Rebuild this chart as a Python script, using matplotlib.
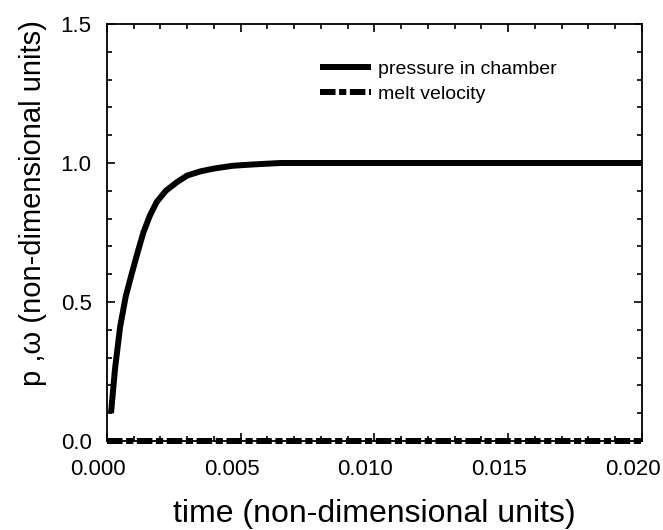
import matplotlib
matplotlib.use("Agg")
import matplotlib.pyplot as plt
import matplotlib.transforms as mtransforms
from matplotlib.ticker import MultipleLocator, FormatStrFormatter

plt.rcParams['font.family'] = ['Liberation Sans', 'DejaVu Sans']

# pressure in chamber
time_p = [0.00015, 0.00030, 0.00049, 0.00070, 0.00092, 0.00115, 0.00136, 0.00160,
          0.00186, 0.00220, 0.00260, 0.00300, 0.00350, 0.00400, 0.00470, 0.00550,
          0.00650, 0.00800, 0.01000, 0.01200, 0.01400, 0.01600, 0.01800, 0.02000]
pressure = [0.10, 0.26, 0.41, 0.52, 0.60, 0.68, 0.75, 0.81,
            0.86, 0.90, 0.93, 0.955, 0.97, 0.98, 0.99, 0.995,
            1.0, 1.0, 1.0, 1.0, 1.0, 1.0, 1.0, 1.0]
# melt velocity
time_w = [0.0, 0.005, 0.010, 0.015, 0.020]
velocity = [0.0, 0.0, 0.0, 0.0, 0.0]

fig = plt.figure(figsize=(6.63, 5.30), dpi=100)
ax = fig.add_axes([0.1614, 0.168, 0.8066, 0.7867])

ax.plot(time_p, pressure, color='black', lw=4.3, solid_capstyle='butt', label='pressure in chamber')
ax.plot(time_w, velocity, color='black', lw=4.3, linestyle=(0, (2.6, 0.6, 1.2, 0.6)),
        label='melt velocity', clip_on=False)

ax.set_xlim(0, 0.020)
ax.set_ylim(0, 1.5)
ax.xaxis.set_major_locator(MultipleLocator(0.005))
ax.xaxis.set_minor_locator(MultipleLocator(0.001))
ax.yaxis.set_major_locator(MultipleLocator(0.5))
ax.yaxis.set_minor_locator(MultipleLocator(0.1))
ax.xaxis.set_major_formatter(FormatStrFormatter('%.3f'))
ax.yaxis.set_major_formatter(FormatStrFormatter('%.1f'))

ax.tick_params(which='both', direction='in', top=True, right=True, width=1.2)
ax.tick_params(which='major', length=6, labelsize=16)
ax.tick_params(axis='x', which='major', pad=13)
ax.tick_params(axis='y', which='major', pad=11)
ax.tick_params(which='minor', length=3.5)
for s in ax.spines.values():
    s.set_linewidth(1.3)

# x tick labels sit slightly left of their ticks in the reference
offset = mtransforms.ScaledTranslation(-9 / 100, 0, fig.dpi_scale_trans)
for lbl in ax.get_xticklabels():
    lbl.set_transform(lbl.get_transform() + offset)

ax.set_xlabel('time (non-dimensional units)', fontsize=23, labelpad=14)
ax.set_ylabel('p ,\u03c9 (non-dimensional units)', fontsize=21)
ax.yaxis.set_label_coords(-0.112, 0.571)

ax.legend(loc='upper left', bbox_to_anchor=(0.398, 0.913), frameon=False, fontsize=14,
          handlelength=2.63, handletextpad=0.36, borderpad=0, borderaxespad=0, labelspacing=0.38)

fig.savefig('out.png', dpi=100)
